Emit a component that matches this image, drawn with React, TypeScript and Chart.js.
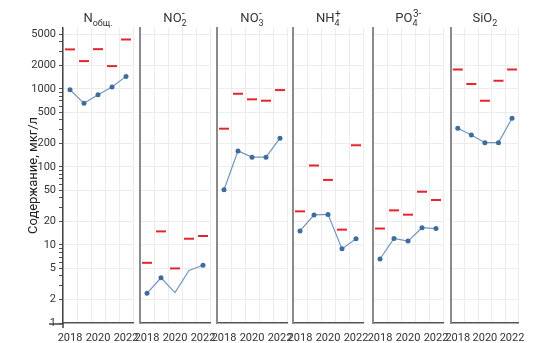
import React, { useEffect, useRef } from 'react';
import { Chart, registerables } from 'chart.js';

Chart.register(...registerables);
Chart.defaults.font.family = 'Roboto, "DejaVu Sans", sans-serif';

// ---- data ----
const years = ['2018', '2019', '2020', '2021', '2022'];
const yTickLabels = [1, 2, 5, 10, 20, 50, 100, 200, 500, 1000, 2000, 5000];
const yMinorTicks = [3, 4, 6, 7, 8, 9, 30, 40, 60, 70, 80, 90, 300, 400, 600, 700, 800, 900, 3000, 4000];
const yAxisTitle = 'Содержание, мкг/л';

const nTotalMean = [970, 651, 838, 1052, 1440];
const nTotalMax = [3190, 2260, 3215, 1950, 4275];
const no2Mean = [2.4, 3.8, 2.45, 4.7, 5.5];
const no2Max = [5.9, 14.9, 5.0, 12.0, 13.0];
const no3Mean = [51, 160, 133, 133, 233];
const no3Max = [308, 863, 732, 703, 962];
const nh4Mean = [15.1, 24.2, 24.6, 8.9, 12.0];
const nh4Max = [26.9, 104, 68, 15.7, 189];
const po4Mean = [6.6, 12.1, 11.2, 16.6, 16.2];
const po4Max = [16.2, 27.7, 24.4, 48, 37.6];
const sio2Mean = [312, 256, 204, 204, 419];
const sio2Max = [1770, 1150, 703, 1265, 1770];

// which mean points have a visible marker
const no2Marked = [true, true, false, false, true];
const allMarked = [true, true, true, true, true];

// title parts: n = normal, b = subscript, p = superscript (stacked over preceding subscript)
type Part = [string, 'n' | 'b' | 'p'];
const titleNTotal: Part[] = [['N', 'n'], ['общ.', 'b']];
const titleNO2: Part[] = [['NO', 'n'], ['2', 'b'], ['-', 'p']];
const titleNO3: Part[] = [['NO', 'n'], ['3', 'b'], ['-', 'p']];
const titleNH4: Part[] = [['NH', 'n'], ['4', 'b'], ['+', 'p']];
const titlePO4: Part[] = [['PO', 'n'], ['4', 'b'], ['3-', 'p']];
const titleSiO2: Part[] = [['SiO', 'n'], ['2', 'b']];

const panels = [
  { title: titleNTotal, mean: nTotalMean, max: nTotalMax, marked: allMarked },
  { title: titleNO2, mean: no2Mean, max: no2Max, marked: no2Marked },
  { title: titleNO3, mean: no3Mean, max: no3Max, marked: allMarked },
  { title: titleNH4, mean: nh4Mean, max: nh4Max, marked: allMarked },
  { title: titlePO4, mean: po4Mean, max: po4Max, marked: allMarked },
  { title: titleSiO2, mean: sio2Mean, max: sio2Max, marked: allMarked },
];

// ---- layout (page px) ----
const plotLefts = [63, 140, 217, 293, 373, 451];
const plotWidths = [70, 70, 70, 70, 70, 68];
const PAGE = 8;
const FIRST_AXIS_W = 55;
const OTHER_AXIS_W = 20;
const PAD_R = 16;
const H = 335;

const titlePlugin = {
  id: 'subTitle',
  afterDraw(chart: any) {
    const parts: Part[] = chart.options.plugins.subTitle.parts;
    const ctx = chart.ctx;
    const big = '13px Roboto, sans-serif';
    const small = '9px Roboto, sans-serif';
    const sup = '10px Roboto, sans-serif';
    let w = 0;
    let lastSubX = 0;
    const items: { t: string; f: string; x: number; dy: number }[] = [];
    for (const [t, k] of parts) {
      if (k === 'n') {
        ctx.font = big;
        const mw = ctx.measureText(t).width;
        items.push({ t, f: big, x: w, dy: 0 });
        w += mw;
      } else if (k === 'b') {
        ctx.font = small;
        const mw = ctx.measureText(t).width;
        items.push({ t, f: small, x: w, dy: 3.5 });
        lastSubX = w;
        w += mw;
      } else {
        ctx.font = sup;
        const mw = ctx.measureText(t).width;
        items.push({ t, f: sup, x: lastSubX + 0.5, dy: -5.5 });
        w = Math.max(w, lastSubX + mw);
      }
    }
    const area = chart.chartArea;
    const cx = (area.left + area.right) / 2;
    const x0 = cx - w / 2;
    const base = 14;
    ctx.save();
    ctx.fillStyle = '#333';
    ctx.textBaseline = 'alphabetic';
    ctx.textAlign = 'left';
    for (const it of items) {
      ctx.font = it.f;
      ctx.fillText(it.t, x0 + it.x, base + it.dy);
    }
    ctx.restore();
  },
};

const axisExtPlugin = {
  id: 'axisExt',
  afterDraw(chart: any) {
    if (!chart.options.plugins.axisExt.on) return;
    const ctx = chart.ctx;
    const a = chart.chartArea;
    ctx.save();
    ctx.strokeStyle = '#444';
    ctx.lineWidth = 1.5;
    ctx.beginPath();
    ctx.moveTo(a.left - 14, a.bottom + 1);
    ctx.lineTo(a.left, a.bottom + 1);
    ctx.moveTo(a.left, a.bottom);
    ctx.lineTo(a.left, a.bottom + 5);
    ctx.stroke();
    ctx.restore();
  },
};

function Panel({ idx }: { idx: number }) {
  const ref = useRef<HTMLCanvasElement>(null);
  const p = panels[idx];
  const first = idx === 0;
  const axisW = first ? FIRST_AXIS_W : OTHER_AXIS_W;
  const width = axisW + plotWidths[idx] + PAD_R;
  const left = plotLefts[idx] - PAGE - axisW;

  useEffect(() => {
    if (!ref.current) return;
    const allTicks = [...yTickLabels, ...yMinorTicks].sort((a, b) => a - b);
    const chart = new Chart(ref.current, {
      type: 'line',
      data: {
        labels: years,
        datasets: [
          {
            data: p.max,
            showLine: false,
            pointStyle: 'line',
            pointRadius: 5,
            pointHoverRadius: 5,
            pointBorderColor: '#e2262c',
            pointBackgroundColor: '#e2262c',
            pointBorderWidth: 2,
            borderColor: '#e2262c',
          },
          {
            data: p.mean,
            borderColor: '#7196c0',
            borderWidth: 1.2,
            pointRadius: p.marked.map((m) => (m ? 2.5 : 0)),
            pointBackgroundColor: '#3f6c9e',
            pointBorderColor: '#3f6c9e',
            pointBorderWidth: 0,
            tension: 0,
          },
        ],
      },
      options: {
        animation: false,
        responsive: false,
        maintainAspectRatio: false,
        layout: { padding: { left: 0, right: PAD_R, top: 20, bottom: 0 } },
        plugins: {
          legend: { display: false },
          tooltip: { enabled: false },
          title: { display: false },
          subTitle: { parts: p.title },
          axisExt: { on: first },
        } as any,
        scales: {
          x: {
            type: 'category',
            offset: true,
            afterFit: (s: any) => {
              s.height = 20;
            },
            grid: { offset: true, color: '#ececec', lineWidth: 1, drawTicks: false },
            border: { display: true, color: '#555', width: 1.5 },
            ticks: {
              autoSkip: false,
              maxRotation: 0,
              padding: 9,
              color: '#333',
              font: { size: 11 },
              callback: (_v: any, i: number) => (i % 2 === 0 ? years[i] : ''),
            },
          },
          y: {
            type: 'logarithmic',
            min: 1,
            max: 6000,
            afterFit: (s: any) => {
              s.width = axisW;
            },
            afterBuildTicks: (s: any) => {
              s.ticks = allTicks.map((v) => ({ value: v }));
            },
            grid: {
              color: (c: any) =>
                c.tick && yTickLabels.includes(c.tick.value) && c.tick.value !== 1 ? '#ececec' : 'rgba(0,0,0,0)',
              tickColor: first ? '#555' : 'rgba(0,0,0,0)',
              drawTicks: first,
              tickLength: 4,
            },
            border: { display: true, color: first ? '#444' : '#8a8a8a', width: first ? 1.5 : 2 },
            title: {
              display: first,
              text: yAxisTitle,
              color: '#222',
              font: { size: 13 },
              padding: { top: 18, bottom: 0 },
            },
            ticks: {
              display: first,
              autoSkip: false,
              padding: 3,
              color: '#333',
              font: { size: 11 },
              callback: (v: any) => (yTickLabels.includes(Number(v)) ? String(v) : ''),
            },
          },
        },
      } as any,
      plugins: [titlePlugin, axisExtPlugin],
    });
    return () => chart.destroy();
  }, []);

  return (
    <div style={{ position: 'absolute', left, top: 0, width, height: H }}>
      <canvas ref={ref} width={width} height={H} style={{ width, height: H, display: 'block' }} />
    </div>
  );
}

export default function App() {
  return (
    <div style={{ position: 'relative', width: 540, height: H }}>
      {panels.map((_, i) => (
        <Panel key={i} idx={i} />
      ))}
    </div>
  );
}
